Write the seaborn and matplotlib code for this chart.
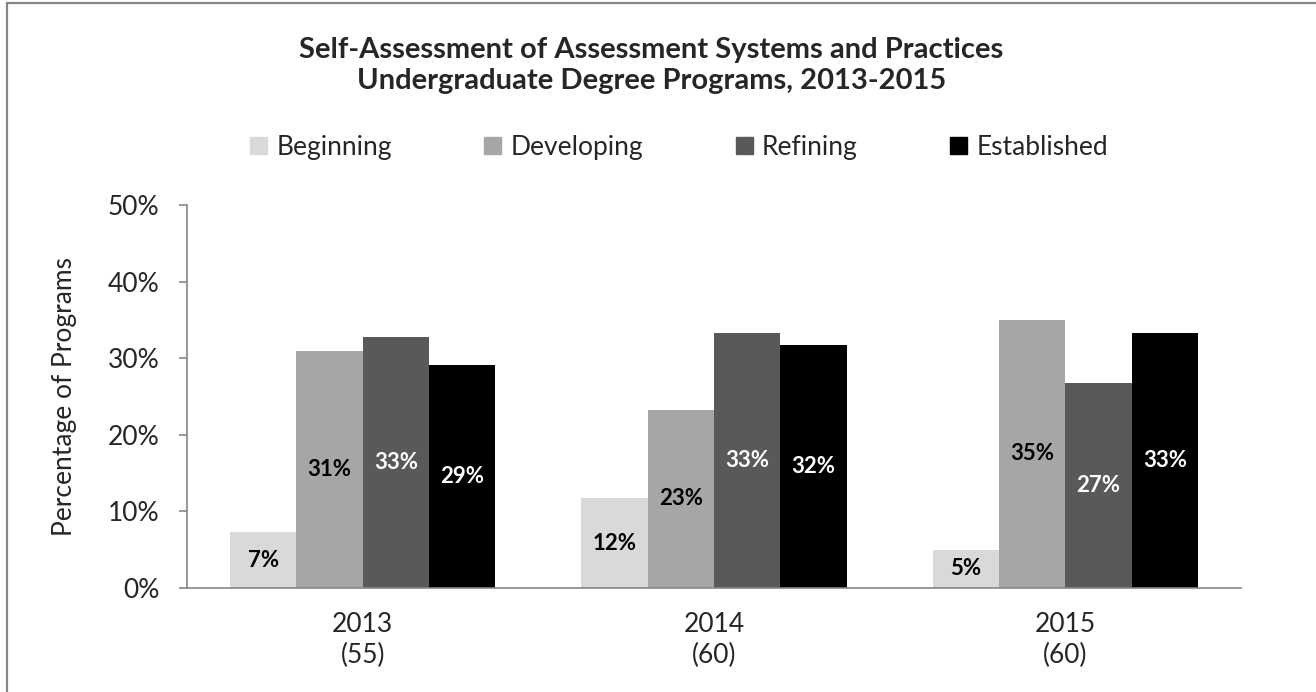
import pandas as pd
import numpy as np
import seaborn as sns
import matplotlib.pyplot as plt
from matplotlib.lines import Line2D

# data
years = ["2013\n(55)", "2014\n(60)", "2015\n(60)"]
levels = ["Beginning", "Developing", "Refining", "Established"]
beginning = [7.3, 11.7, 5.0]
developing = [30.9, 23.3, 35.0]
refining = [32.7, 33.3, 26.7]
established = [29.1, 31.7, 33.3]
colors = ["#D9D9D9", "#A6A6A6", "#595959", "#000000"]
label_colors = ["black", "black", "white", "white"]

rows = []
for lvl, vals in zip(levels, [beginning, developing, refining, established]):
    for y, v in zip(years, vals):
        rows.append({"year": y, "level": lvl, "pct": v})
df = pd.DataFrame(rows)

sns.set_style("white")
plt.rcParams['font.family'] = ['Lato', 'DejaVu Sans']

fig = plt.figure(figsize=(13.16, 6.92), dpi=100)
ax = fig.add_axes([0.1421, 0.1503, 0.8009, 0.5535])

sns.barplot(data=df, x="year", y="pct", hue="level", hue_order=levels,
            palette=colors, width=0.755, gap=0, ax=ax, legend=False,
            saturation=1, linewidth=0, err_kws={'linewidth': 0})

for cont, tc in zip(ax.containers, label_colors):
    ax.bar_label(cont, labels=[f"{v:.0f}%" for v in cont.datavalues],
                 label_type="center", color=tc, fontsize=16, fontweight="bold")

ax.set_ylim(0, 50)
ax.set_yticks(np.arange(0, 51, 10))
ax.set_yticklabels([f"{t}%" for t in range(0, 51, 10)], fontsize=19)
ax.set_xlim(-0.5, 2.5)
ax.set_xticks([0, 1, 2])
ax.set_xticklabels(years, fontsize=19, linespacing=1.3)
ax.set_xticks([-0.5, 0.5, 1.5, 2.5], minor=True)
ax.tick_params(axis="x", which="major", length=0, pad=17)
ax.tick_params(axis="x", which="minor", length=8, width=1.2, color="#868686", direction="out")
ax.tick_params(axis="y", length=6, width=1.2, color="#868686", direction="out", left=True, pad=14)
ax.set_xlabel("")
ax.set_ylabel("Percentage of Programs", fontsize=19, labelpad=22)

for s in ["top", "right"]:
    ax.spines[s].set_visible(False)
for s in ["left", "bottom"]:
    ax.spines[s].set_color("#868686")
    ax.spines[s].set_linewidth(1.2)

handles = [plt.Rectangle((0, 0), 1, 1, color=c) for c in colors]
fig.legend(handles, levels, loc="center", bbox_to_anchor=(0.516, 0.787), ncol=4,
           frameon=False, fontsize=19, handlelength=0.65, handleheight=0.65,
           handletextpad=0.35, columnspacing=3.5)

fig.text(0.495, 0.905, "Self-Assessment of Assessment Systems and Practices\nUndergraduate Degree Programs, 2013-2015",
         ha="center", va="center", fontsize=21, fontweight="bold", linespacing=1.25)

# outer frame (left and top edges visible)
fig.add_artist(Line2D([7 / 1316, 7 / 1316], [0, 689 / 692], color="#868686", lw=1.6))
fig.add_artist(Line2D([7 / 1316, 1], [689 / 692, 689 / 692], color="#868686", lw=1.6))

fig.savefig("out.png", dpi=100)
